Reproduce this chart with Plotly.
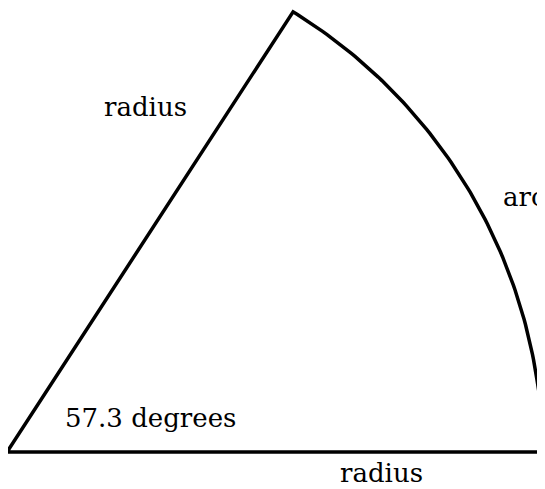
import numpy as np
import plotly.graph_objects as go

# Sector (one radian) drawing, in pixel-like units
vertex = [7, 452]
arc_center = [18, 459]
arc_radius = 525
arc_start_deg = 58.4
arc_end_deg = 8.7
bottom_end_x = 541
step_y = 405

labels = ["radius", "arc", "57.3 degrees", "radius"]
label_x = [102, 501, 63, 338]
label_y = [117, 207, 428, 483]

theta = np.radians(np.linspace(arc_start_deg, arc_end_deg, 90))
arc_x = arc_center[0] + arc_radius * np.cos(theta)
arc_y = arc_center[1] - arc_radius * np.sin(theta)

xs = [vertex[0]] + list(arc_x) + [bottom_end_x, bottom_end_x, vertex[0]]
ys = [vertex[1]] + list(arc_y) + [step_y, vertex[1], vertex[1]]

fig = go.Figure()
fig.add_trace(go.Scatter(x=xs, y=ys, mode="lines",
                         line=dict(color="black", width=3.5),
                         hoverinfo="skip", showlegend=False))

for t, x, y in zip(labels, label_x, label_y):
    fig.add_annotation(x=x, y=y, text=t, showarrow=False,
                       xanchor="left", yanchor="bottom", yshift=-7,
                       font=dict(family="DejaVu Serif", size=26, color="black"))

# the page body has an 8px default margin, so the axes start at 8
fig.update_xaxes(range=[8, 553], visible=False)
fig.update_yaxes(range=[497, 8], visible=False)
fig.update_layout(width=545, height=489, margin=dict(l=0, r=0, t=0, b=0),
                  plot_bgcolor="white", paper_bgcolor="white")
fig.write_html("out.html")
